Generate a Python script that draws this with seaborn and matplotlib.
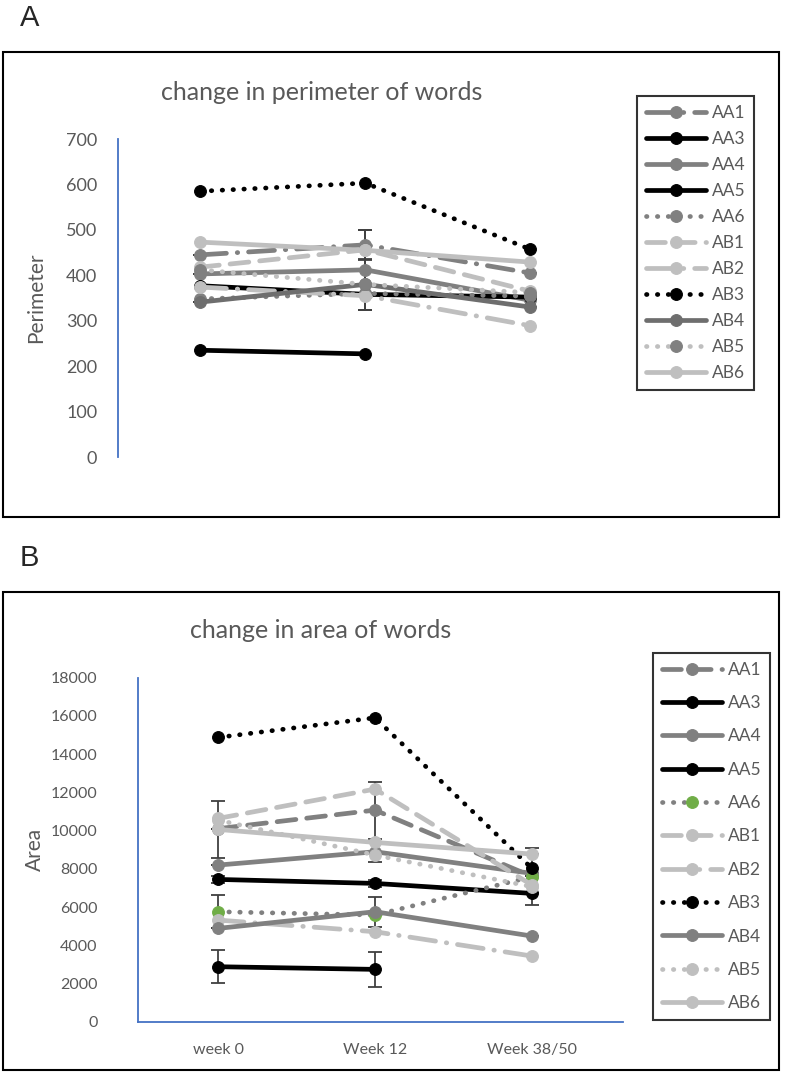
import numpy as np
import pandas as pd
import seaborn as sns
import matplotlib.pyplot as plt
from matplotlib.patches import Rectangle

sns.set_style("white")
plt.rcParams['font.family'] = ['Lato', 'DejaVu Sans']

weeks = ["week 0", "Week 12", "Week 38/50"]
names = ["AA1", "AA3", "AA4", "AA5", "AA6", "AB1", "AB2", "AB3", "AB4", "AB5", "AB6"]

# perimeter (panel A)
perim_AA1 = [445, 467, 405]
perim_AA3 = [235, 227, np.nan]
perim_AA4 = [403, 412, 345]
perim_AA5 = [377, 358, 352]
perim_AA6 = [348, 360, 354]
perim_AB1 = [418, 456, 365]
perim_AB2 = [374, 355, 289]
perim_AB3 = [585, 603, 457]
perim_AB4 = [341, 380, 330]
perim_AB5 = [412, 380, 362]
perim_AB6 = [473, 455, 429]

# area (panel B)
area_AA1 = [10100, 11072, 7600]
area_AA3 = [2877, 2738, np.nan]
area_AA4 = [8195, 8893, 7760]
area_AA5 = [7445, 7236, 6713]
area_AA6 = [5754, 5580, 7585]
area_AB1 = [10636, 12171, 7150]
area_AB2 = [5318, 4708, 3435]
area_AB3 = [14874, 15902, 8021]
area_AB4 = [4882, 5754, 4481]
area_AB5 = [10549, 8718, 7062]
area_AB6 = [10061, 9381, 8771]

# error bars (only some series have them)
perim_err = {"AA1": [0, 33, 0], "AA4": [0, 88, 0], "AB4": [0, 56, 0]}
area_err = {"AB6": [1480, 0, 0], "AA5": [200, 200, 0], "AA6": [870, 0, 1480],
            "AA3": [870, 900, 0], "AA1": [0, 1490, 0], "AA4": [0, 523, 0],
            "AB4": [0, 787, 0]}

perim = dict(zip(names, [perim_AA1, perim_AA3, perim_AA4, perim_AA5, perim_AA6, perim_AB1,
                         perim_AB2, perim_AB3, perim_AB4, perim_AB5, perim_AB6]))
area = dict(zip(names, [area_AA1, area_AA3, area_AA4, area_AA5, area_AA6, area_AB1,
                        area_AB2, area_AB3, area_AB4, area_AB5, area_AB6]))

GRAY = '#808080'
LIGHT = '#BFBFBF'
DOTS = (0, (0.1, 2.2))
DASH = (0, (4, 2.3))
LDD = (0, (5.5, 2.3, 0.1, 2.3))

# (line color, linestyle, marker color) per panel
style_A = {
    "AA1": (GRAY, LDD, GRAY), "AA3": ('black', '-', 'black'), "AA4": (GRAY, '-', GRAY),
    "AA5": ('black', '-', 'black'), "AA6": (GRAY, DOTS, GRAY), "AB1": (LIGHT, DASH, LIGHT),
    "AB2": (LIGHT, LDD, LIGHT), "AB3": ('black', DOTS, 'black'), "AB4": ('#6E6E6E', '-', '#6E6E6E'),
    "AB5": (LIGHT, DOTS, GRAY), "AB6": (LIGHT, '-', LIGHT),
}
style_B = dict(style_A)
style_B["AA1"] = (GRAY, DASH, GRAY)
style_B["AA6"] = (GRAY, DOTS, '#70AD47')
style_B["AB4"] = (GRAY, '-', GRAY)
style_B["AB5"] = (LIGHT, DOTS, LIGHT)

TXT = '#595959'
BLUE = '#4472C4'
x = np.arange(len(weeks))

fig = plt.figure(figsize=(7.87, 10.79), dpi=100)
W, H = 787, 1079


def fx(px):
    return px / W


def fy(py):
    return 1 - py / H


def draw_panel(ax, data, errs, styles):
    for n in names:
        c, ls, mc = styles[n]
        df = pd.DataFrame({"x": x, "y": data[n]})
        sns.lineplot(data=df, x="x", y="y", ax=ax, color=c, linestyle=ls, linewidth=3.4,
                     dash_capstyle='round', marker='o', markersize=8.5,
                     markerfacecolor=mc, markeredgecolor=mc, errorbar=None, label=n)
        if n in errs:
            ax.errorbar(x, data[n], yerr=errs[n], fmt='none', ecolor='#404040',
                        elinewidth=1.3, capsize=5, capthick=1.3, zorder=1)


# panel A
axA = fig.add_axes([fx(118), fy(457), fx(626 - 118), 318 / H])
draw_panel(axA, perim, perim_err, style_A)
axA.set_xlim(-0.5, 2.58)
axA.set_ylim(0, 700)
axA.set_yticks(range(0, 701, 100))
axA.set_xticks([])
axA.set_xlabel("")
axA.set_ylabel("Perimeter", color=TXT, fontsize=15)
axA.yaxis.set_label_coords(-0.142, 0.5)
axA.tick_params(axis='y', length=0, pad=15, labelsize=13, labelcolor=TXT)
for s in ['top', 'right', 'bottom']:
    axA.spines[s].set_visible(False)
axA.spines['left'].set_color(BLUE)
axA.spines['left'].set_linewidth(1.3)

# panel B
axB = fig.add_axes([fx(138), fy(1021.7), fx(623 - 138), 344 / H])
draw_panel(axB, area, area_err, style_B)
axB.set_xlim(-0.51, 2.58)
axB.set_ylim(0, 18000)
axB.set_yticks(range(0, 18001, 2000))
axB.set_xticks(x)
axB.set_xticklabels(weeks)
axB.set_xlabel("")
axB.set_ylabel("Area", color=TXT, fontsize=15)
axB.yaxis.set_label_coords(-0.192, 0.5)
axB.tick_params(axis='y', length=0, pad=29, labelsize=11.5, labelcolor=TXT)
axB.tick_params(axis='x', length=0, pad=15, labelsize=11.5, labelcolor=TXT)
for s in ['top', 'right']:
    axB.spines[s].set_visible(False)
for s in ['left', 'bottom']:
    axB.spines[s].set_color(BLUE)
    axB.spines[s].set_linewidth(1.3)

# legends
for ax, anchor, spacing in [(axA, (fx(637), fy(96)), 0.58), (axB, (fx(653), fy(653)), 1.0)]:
    h, l = ax.get_legend_handles_labels()
    leg = ax.legend(h, l, loc='upper left', bbox_to_anchor=anchor, bbox_transform=fig.transFigure,
                    borderaxespad=0, frameon=True, fancybox=False, edgecolor='black',
                    fontsize=12.5, labelcolor=TXT, handlelength=3.5, handletextpad=0.3,
                    labelspacing=spacing, borderpad=0.5, numpoints=1)
    leg.get_frame().set_linewidth(1.5)

# titles
fig.text(fx(322), fy(92), "change in perimeter of words", ha='center', va='center',
         fontsize=18, color=TXT)
fig.text(fx(321), fy(630), "change in area of words", ha='center', va='center',
         fontsize=18, color=TXT)

# panel letters and borders
fig.text(fx(30), fy(18), "A", ha='center', va='center', fontsize=21, family='Liberation Sans')
fig.text(fx(29), fy(558), "B", ha='center', va='center', fontsize=21, family='Liberation Sans')
fig.add_artist(Rectangle((fx(3), fy(517)), fx(776), 465 / H, transform=fig.transFigure,
                         fill=False, edgecolor='black', linewidth=1.5))
fig.add_artist(Rectangle((fx(3), fy(1070)), fx(776), 478 / H, transform=fig.transFigure,
                         fill=False, edgecolor='black', linewidth=1.5))

fig.savefig("out.png", dpi=100)
